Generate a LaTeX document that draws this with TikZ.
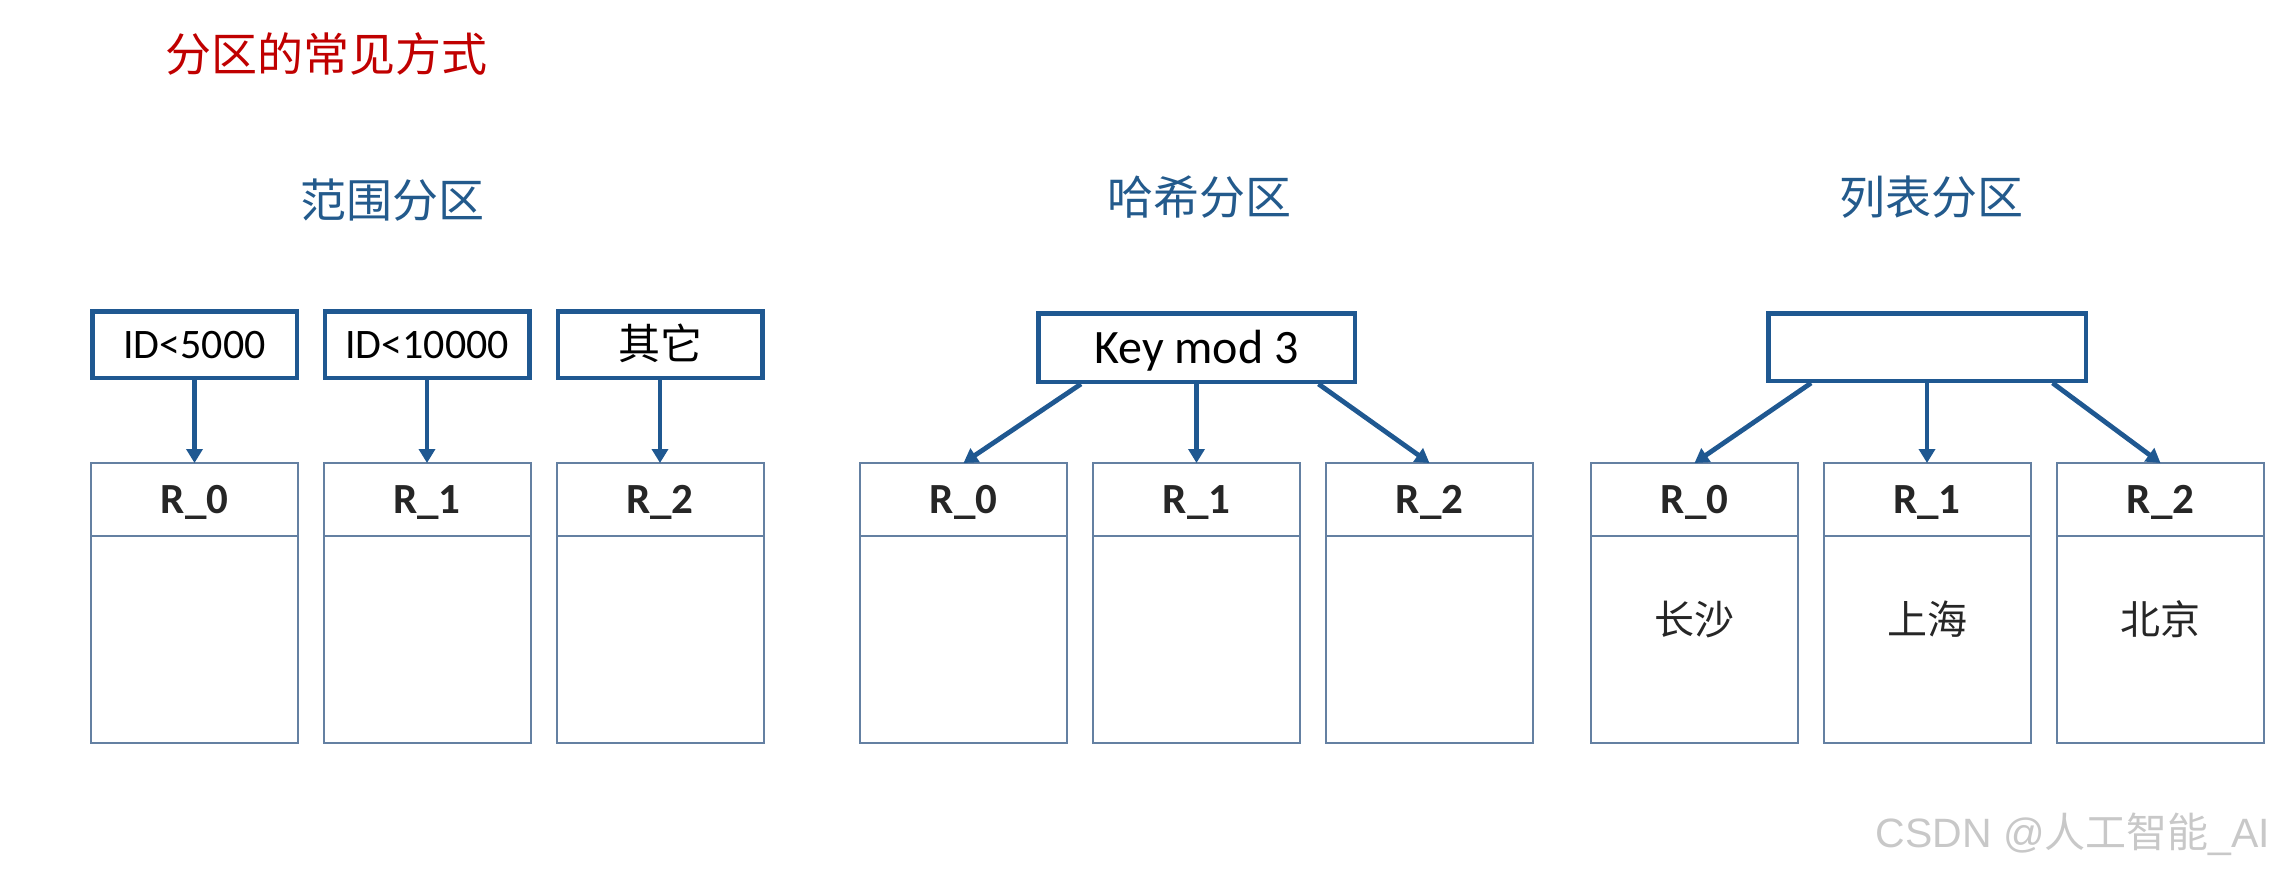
\documentclass[tikz,border=0pt]{standalone}
\usepackage{fontspec}
\setmainfont{Carlito}
\newfontfamily\cjk{Noto Sans CJK SC}
\newfontfamily\wmfont{Liberation Sans}
\usepackage{tikz}
\usetikzlibrary{positioning,calc,arrows.meta}
\definecolor{boxblue}{RGB}{31,88,145}
\definecolor{lineblue}{RGB}{100,128,162}
\definecolor{titlered}{RGB}{192,0,0}
\definecolor{headblue}{RGB}{35,90,140}
\definecolor{wmgray}{RGB}{200,200,200}

\begin{document}
\begin{tikzpicture}[x=0.5pt, y=-0.5pt,
    cond/.style = {draw=boxblue, line width=2.25pt, minimum width=102.25pt, minimum height=33.25pt, inner sep=0pt, text height=13.5pt, text depth=0pt, font=\fontsize{21}{24}\selectfont},
    part/.style = {draw=lineblue, line width=1pt, minimum width=103.5pt, minimum height=36.5pt, outer sep=0pt, inner sep=0pt, text height=14pt, text depth=0pt, text=black!85, font=\fontsize{21.5}{24}\selectfont\bfseries},
    cell/.style = {part, minimum height=103.5pt},
    city/.style = {text=black!85, font=\cjk\fontsize{20}{24}\selectfont},
    sect/.style = {text=headblue, font=\cjk\fontsize{23}{28}\selectfont},
    arr/.style = {draw=boxblue, line width=2.4pt, -{Triangle[length=7pt,width=8pt]}}]
    \useasboundingbox (0,0) rectangle (2284,872);

    \node[text=titlered, font=\cjk\fontsize{23}{28}\selectfont] (title) at (326,54) {分区的常见方式};
    \node[sect] (t0) at (392,200) {范围分区};
    \node[sect] (t1) at (1199,197) {哈希分区};
    \node[sect] (t2) at (1931,197) {列表分区};

    % range
    \node[cond] (c0) at (194.5,344.5) {ID<5000};
    \node[cond] (c1) at (427,344.5) {ID<10000};
    \node[cond, text height=15pt] (c2) at (660,344.5) {\cjk 其它};
    \node[part] (r0) at (194.5,499.5) {R\_0};
    \node[part] (r1) at (427,499.5) {R\_1};
    \node[part] (r2) at (660,499.5) {R\_2};
    \node[cell] (rb0) [below=0pt of r0] {};
    \node[cell] (rb1) [below=0pt of r1] {};
    \node[cell] (rb2) [below=0pt of r2] {};
    \draw[arr] (c0) -- (r0);
    \draw[arr] (c1) -- (r1);
    \draw[arr] (c2) -- (r2);

    % hash
    \node[cond, minimum width=158.25pt, minimum height=34.25pt, text height=15.5pt, font=\fontsize{24}{28}\selectfont] (hk) at (1196.5,347.5) {Key mod 3};
    \node[part] (h0) at (963.5,499.5) {R\_0};
    \node[part] (h1) at (1196.5,499.5) {R\_1};
    \node[part] (h2) at (1429.5,499.5) {R\_2};
    \node[cell] (hb0) [below=0pt of h0] {};
    \node[cell] (hb1) [below=0pt of h1] {};
    \node[cell] (hb2) [below=0pt of h2] {};
    \draw[arr] ($(hk.south west)!0.14!(hk.south east)$) -- (h0.north);
    \draw[arr] (hk) -- (h1);
    \draw[arr] ($(hk.south west)!0.88!(hk.south east)$) -- (h2.north);

    % list
    \node[cond, minimum width=158.75pt, minimum height=33.75pt] (lk) at (1927,347) {};
    \node[part] (l0) at (1694.5,499.5) {R\_0};
    \node[part] (l1) at (1927,499.5) {R\_1};
    \node[part] (l2) at (2160.5,499.5) {R\_2};
    \node[cell] (lb0) [below=0pt of l0] {};
    \node[cell] (lb1) [below=0pt of l1] {};
    \node[cell] (lb2) [below=0pt of l2] {};
    \node[city] (n0) at ([yshift=10pt]lb0.center) {长沙};
    \node[city] (n1) at ([yshift=10pt]lb1.center) {上海};
    \node[city] (n2) at ([yshift=10pt]lb2.center) {北京};
    \draw[arr] ($(lk.south west)!0.14!(lk.south east)$) -- (l0.north);
    \draw[arr] (lk) -- (l1);
    \draw[arr] ($(lk.south west)!0.89!(lk.south east)$) -- (l2.north);

    \node[text=wmgray, font=\wmfont\fontsize{20.5}{24}\selectfont] (wm) at (2073,834) {CSDN @{\cjk 人工智能}\_AI};
\end{tikzpicture}
\end{document}
